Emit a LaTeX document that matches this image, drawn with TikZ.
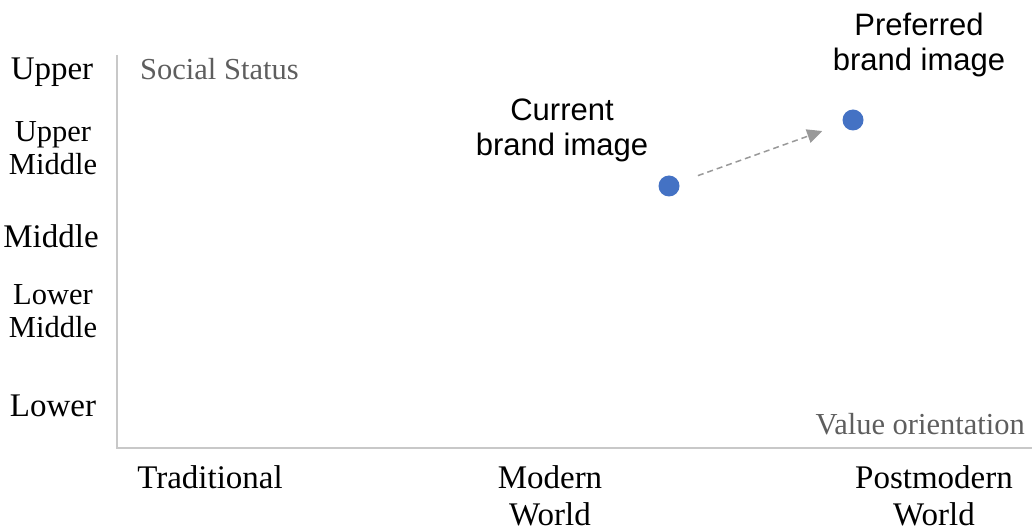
\documentclass[tikz,border=0pt]{standalone}
\usepackage{fontspec}
\setmainfont{Liberation Serif}
\newfontfamily\arialfont{Liberation Sans}
\usetikzlibrary{arrows.meta}
\definecolor{axisgray}{HTML}{C8C8C8}
\definecolor{labelgray}{HTML}{5E5E5E}
\definecolor{dotblue}{HTML}{4472C4}
\definecolor{arrowgray}{HTML}{999999}
\begin{document}
\begin{tikzpicture}[x=1bp,y=-1bp,
  lvl/.style={inner sep=0pt,anchor=base,align=center,font=\fontsize{33bp}{35bp}\selectfont},
  sublvl/.style={inner sep=0pt,anchor=base,align=center,font=\fontsize{30.5bp}{33bp}\selectfont},
  axlabel/.style={inner sep=0pt,anchor=base,text=labelgray,font=\fontsize{30.5bp}{33bp}\selectfont},
  worldlbl/.style={inner sep=0pt,anchor=base,align=center,font=\fontsize{33bp}{37bp}\selectfont},
  brandlbl/.style={inner sep=0pt,anchor=base,align=center,font=\arialfont\fontsize{31bp}{35bp}\selectfont},
  dot/.style={circle,fill=dotblue,inner sep=0pt,minimum size=21bp},
  axis/.style={draw=axisgray,line width=1.5bp}]
\useasboundingbox (0,0) rectangle (1032,530);

% axes
\coordinate (top) at (117,55);
\coordinate (origin) at (117,448);
\coordinate (right) at (1032,448);
\draw[axis] (top) -- (origin) -- (right);

% social status levels (multi-line nodes sit on their last baseline)
\node[lvl] (upper) at (52,80) {Upper};
\node[sublvl] (uppermid) at (53,175) {Upper\\Middle};
\node[lvl] (middle) at (51,248) {Middle};
\node[sublvl] (lowermid) at (53,338) {Lower\\Middle};
\node[lvl] (lower) at (53,416) {Lower};

% axis titles
\node[axlabel,anchor=base west] (ystatus) at (140,80) {Social Status};
\node[axlabel,anchor=base east] (xvalue) at (1025,434) {Value orientation};

% value orientation categories
\node[worldlbl] (trad) at (210,488) {Traditional};
\node[worldlbl] (modern) at (550,525) {Modern\\World};
\node[worldlbl] (postmod) at (934,525) {Postmodern\\World};

% brand positions
\node[dot] (cur) at (669,186) {};
\node[dot] (pref) at (853,120) {};
\node[brandlbl] (curlbl) at (562,156) {Current\\brand image};
\node[brandlbl] (preflbl) at (919,71) {Preferred\\brand image};

\draw[arrowgray,dashed,line width=1.5bp,dash pattern=on 6bp off 4bp,
      -{Triangle[length=15bp,width=14bp]},shorten <=20bp,shorten >=22bp] (cur) -- (pref);
\end{tikzpicture}
\end{document}
